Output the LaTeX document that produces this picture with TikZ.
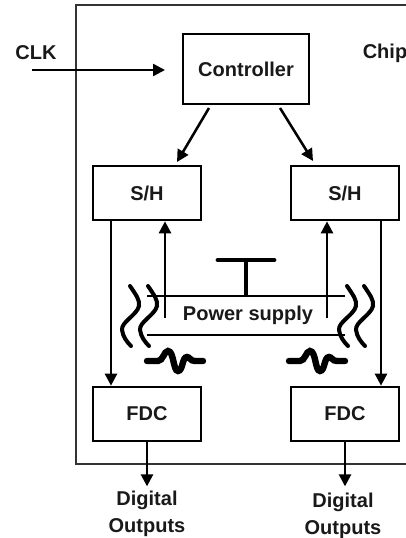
\documentclass[tikz,border=0pt]{standalone}
\usepackage{fontspec}
\setmainfont{Liberation Sans}
\usetikzlibrary{arrows.meta}
\tikzset{
  x=0.75pt,y=-0.75pt,
  block/.style={draw=black,line width=2pt,inner sep=0pt,font=\fontsize{15}{18}\selectfont\bfseries,text=black!90},
  lab/.style={inner sep=0pt,font=\fontsize{15}{18}\selectfont\bfseries,text=black!90,align=center},
  conn/.style={line width=1.9pt,-{Triangle[length=9pt,width=9pt]}},
  busline/.style={line width=1.6pt},
  wave/.style={line width=3pt,line cap=round},
  noise/.style={line width=4.8pt,line cap=round},
}
\begin{document}
\begin{tikzpicture}
\useasboundingbox (0,0) rectangle (406,538);
\draw[line width=1.3pt,black!80] (406,5) -- (76,5) -- (76,464) -- (406,464);
\node[block,minimum width=94.5pt,minimum height=52.5pt] (ctrl) at (246,69) {Controller};
\node[block,minimum width=81pt,minimum height=40.5pt] (sl) at (147,193) {S/H};
\node[block,minimum width=81pt,minimum height=40.5pt] (sr) at (345,193) {S/H};
\node[block,minimum width=81pt,minimum height=40.5pt] (fl) at (147,414) {FDC};
\node[block,minimum width=81pt,minimum height=40.5pt] (fr) at (345,414) {FDC};
\node[lab] (clk) at (36,53) {CLK};
\node[lab] (chip) at (385,53) {Chip};
\node[lab] (ps) at (248,315) {Power supply};
\node[lab] (dl) at (147,514) {Digital\\[2pt]Outputs};
\node[lab] (dr) at (343,516) {Digital\\[2pt]Outputs};
\coordinate (clks) at (32,70);
\coordinate (clke) at (165,70);
\draw[conn] (clks) -- (clke);
\coordinate (c1) at (209,108);
\coordinate (c2) at (177,162);
\coordinate (c3) at (280,108);
\coordinate (c4) at (313,161);
\draw[conn] (c1) -- (c2);
\draw[conn] (c3) -- (c4);
\draw[conn] (sl.south -| 111,0) -- (fl.north -| 111,0);
\draw[conn] (sr.south -| 381,0) -- (fr.north -| 381,0);
\coordinate (ul) at (165,318);
\coordinate (ur) at (327,318);
\draw[conn] (ul) -- (ul |- sl.south);
\draw[conn] (ur) -- (ur |- sr.south);
\draw[conn] (fl.south) -- ++(0,44);
\draw[conn] (fr.south) -- ++(0,44);
\coordinate (bt1) at (147,296);
\coordinate (bt2) at (345,296);
\coordinate (bb1) at (147,335);
\coordinate (bb2) at (345,335);
\draw[busline] (bt1) -- (bt2);
\draw[busline] (bb1) -- (bb2);
\draw[line width=3pt] (246,297) -- (246,260);
\draw[line width=3.6pt,line cap=round] (218,260) -- (274,260);
\foreach \dx in {0,18,217,234}{
  \draw[wave] ([xshift=\dx*0.75pt]130,286) .. controls ([xshift=\dx*0.75pt]136,295) and ([xshift=\dx*0.75pt]140,300) .. ([xshift=\dx*0.75pt]139,306) .. controls ([xshift=\dx*0.75pt]137,315) and ([xshift=\dx*0.75pt]121,322) .. ([xshift=\dx*0.75pt]122,330) .. controls ([xshift=\dx*0.75pt]123,337) and ([xshift=\dx*0.75pt]127,342) .. ([xshift=\dx*0.75pt]131,346);
}
\foreach \dx in {0,142}{
  \draw[noise] ([xshift=\dx*0.75pt]147,361) -- ([xshift=\dx*0.75pt]158,361) .. controls ([xshift=\dx*0.75pt]163,361) and ([xshift=\dx*0.75pt]164,351) .. ([xshift=\dx*0.75pt]168,351) .. controls ([xshift=\dx*0.75pt]174,351) and ([xshift=\dx*0.75pt]173,371) .. ([xshift=\dx*0.75pt]178,371) .. controls ([xshift=\dx*0.75pt]183,371) and ([xshift=\dx*0.75pt]182,357) .. ([xshift=\dx*0.75pt]187,357) .. controls ([xshift=\dx*0.75pt]190,357) and ([xshift=\dx*0.75pt]190,361) .. ([xshift=\dx*0.75pt]195,361) -- ([xshift=\dx*0.75pt]203,361);
}
\end{tikzpicture}
\end{document}
